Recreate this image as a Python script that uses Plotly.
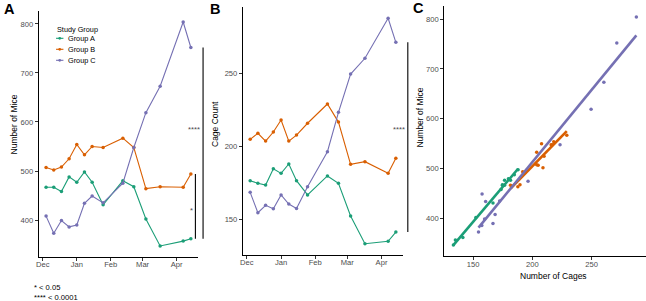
import numpy as np
import pandas as pd
import plotly.graph_objects as go

# ---------------- data ----------------
dates = ["2019-12-04", "2019-12-11", "2019-12-18", "2019-12-25", "2020-01-01",
         "2020-01-08", "2020-01-15", "2020-01-25", "2020-02-12", "2020-02-22",
         "2020-03-04", "2020-03-17", "2020-04-07", "2020-04-14"]

groups = ["Group A", "Group B", "Group C"]

mice_A = [467, 467, 458, 488, 477, 498, 477, 431, 480, 468, 402, 347, 357, 362]
mice_B = [507, 502, 508, 525, 554, 533, 550, 548, 567, 548, 464, 468, 467, 494]
mice_C = [408, 373, 399, 386, 390, 434, 449, 435, 475, 548, 619, 673, 804, 752]

cages_A = [176.5, 174.7, 173.5, 184.7, 181.5, 187.9, 176.5, 166.7, 179.7, 174.7, 152.3, 133.3, 135.0, 141.3]
cages_B = [204.8, 208.9, 203.6, 209.8, 218.0, 203.6, 207.7, 215.8, 229.0, 216.6, 187.7, 189.5, 181.5, 191.8]
cages_C = [168.5, 154.5, 159.6, 157.3, 166.7, 160.5, 157.5, 172.3, 196.3, 223.3, 249.5, 260.3, 287.7, 271.2]

month_ticks = ["2019-12-01", "2020-01-01", "2020-02-01", "2020-03-01", "2020-04-01"]
month_labels = ["Dec", "Jan", "Feb", "Mar", "Apr"]
mice_ticks = [400, 500, 600, 700, 800]
cage_ticks = [150, 200, 250]

colors = ["#1B9E77", "#D95F02", "#7570B3"]

# ---------------- helpers ----------------
W, H = 646, 301
FONT = "Liberation Sans, Arial, Helvetica, sans-serif"


def px(x):
    return x / W


def py(y):
    return 1 - y / H


def expand(vals, f=0.05):
    lo, hi = min(vals), max(vals)
    r = hi - lo
    return [lo - f * r, hi + f * r]


d = pd.to_datetime(dates)
dspan = d.max() - d.min()
date_range = [(d.min() - dspan * 0.05).strftime("%Y-%m-%d %H:%M"),
              (d.max() + dspan * 0.05).strftime("%Y-%m-%d %H:%M")]

mice_all = mice_A + mice_B + mice_C
cages_all = cages_A + cages_B + cages_C
mice_range = expand(mice_all)
cage_range = expand(cages_all)

fig = go.Figure()

mice = [mice_A, mice_B, mice_C]
cages = [cages_A, cages_B, cages_C]

# Panel A and B time series
for g, m, c, col in zip(groups, mice, cages, colors):
    fig.add_trace(go.Scatter(x=dates, y=m, mode="lines+markers", name=g,
                             line=dict(color=col, width=1.1),
                             marker=dict(color=col, size=3.5),
                             xaxis="x", yaxis="y", showlegend=False))
    fig.add_trace(go.Scatter(x=dates, y=c, mode="lines+markers", name=g,
                             line=dict(color=col, width=1.1),
                             marker=dict(color=col, size=3.5),
                             xaxis="x2", yaxis="y2", showlegend=False))

# Panel C scatter + linear fits
for g, m, c, col in zip(groups, mice, cages, colors):
    fig.add_trace(go.Scatter(x=c, y=m, mode="markers", name=g,
                             marker=dict(color=col, size=3.5),
                             xaxis="x3", yaxis="y3", showlegend=False))
    slope, icpt = np.polyfit(c, m, 1)
    xs = np.array([min(c), max(c)])
    fig.add_trace(go.Scatter(x=xs, y=slope * xs + icpt, mode="lines", name=g,
                             line=dict(color=col, width=2.6),
                             xaxis="x3", yaxis="y3", showlegend=False))

axis_common = dict(showline=True, linecolor="black", linewidth=1.1,
                   ticks="outside", ticklen=3, tickwidth=1, tickcolor="#333333",
                   showgrid=False, zeroline=False,
                   tickfont=dict(family=FONT, size=7.6, color="#4d4d4d"))
xaxis_extra = dict(ticklabelstandoff=-3)

fig.update_layout(
    width=W, height=H,
    margin=dict(l=0, r=0, t=0, b=0),
    paper_bgcolor="white", plot_bgcolor="white",
    font=dict(family=FONT),
    showlegend=False,
    xaxis=dict(domain=[px(36), px(196)], anchor="y", range=date_range,
               tickvals=month_ticks, ticktext=month_labels, **axis_common, **xaxis_extra),
    yaxis=dict(domain=[py(257.2), py(10.8)], anchor="x", range=mice_range,
               tickvals=mice_ticks, **axis_common),
    xaxis2=dict(domain=[px(241), px(402)], anchor="y2", range=date_range,
                tickvals=month_ticks, ticktext=month_labels, **axis_common, **xaxis_extra),
    yaxis2=dict(domain=[py(255), py(7)], anchor="x2", range=expand(cages_all),
                tickvals=cage_ticks, **axis_common),
    xaxis3=dict(domain=[px(443.3), px(645.5)], anchor="y3", range=cage_range,
                tickvals=cage_ticks, **axis_common, **xaxis_extra),
    yaxis3=dict(domain=[py(256.4), py(5.6)], anchor="x3", range=mice_range,
                tickvals=mice_ticks, **axis_common),
)

ann = []


def text(x, y, s, size=8.5, color="black", angle=0, xanchor="center", bold=False):
    ann.append(dict(x=px(x), y=py(y), xref="paper", yref="paper", text=s,
                    showarrow=False, textangle=angle, xanchor=xanchor,
                    yanchor="middle",
                    font=dict(family=FONT, size=size, color=color,
                              weight="bold" if bold else "normal")))


# Panel letters
text(7, 8.5, "A", size=14.5, bold=True)
text(213, 9, "B", size=14.5, bold=True)
text(417, 8, "C", size=14.5, bold=True)

# Axis titles
text(11.5, 124, "Number of Mice", size=8.5, angle=-90)
text(213, 124, "Cage Count", size=8.5, angle=-90)
text(418, 117.5, "Number of Mice", size=8.5, angle=-90)
text(552.7, 275.5, "Number of Cages", size=8.5)

# Legend (manual)
text(52.3, 30, "Study Group", size=7.3, xanchor="left")
shapes = []
for i, (g, col) in enumerate(zip(groups, colors)):
    yy = [38.3, 49.3, 60.3][i]
    shapes.append(dict(type="line", xref="paper", yref="paper",
                       x0=px(53.3), x1=px(60.7), y0=py(yy), y1=py(yy),
                       line=dict(color=col, width=1.1)))
    shapes.append(dict(type="circle", xref="paper", yref="paper",
                       x0=px(55.6), x1=px(58.4), y0=py(yy + 1.4), y1=py(yy - 1.4),
                       fillcolor=col, line=dict(width=0)))
    text(63.3, yy, g, size=7.3, xanchor="left")

# Significance brackets (span last values)
shapes.append(dict(type="line", xref="paper", yref="y",
                   x0=px(201), x1=px(201), y0=mice_A[-1], y1=mice_C[-1],
                   line=dict(color="black", width=1.1)))
shapes.append(dict(type="line", xref="paper", yref="y",
                   x0=px(193.3), x1=px(193.3), y0=mice_A[-1], y1=mice_B[-1],
                   line=dict(color="black", width=1.1)))
shapes.append(dict(type="line", xref="paper", yref="y2",
                   x0=px(406.7), x1=px(406.7), y0=cages_A[-1], y1=cages_C[-1],
                   line=dict(color="black", width=1.1)))
text(192, 130, "****", size=7.7, color="#4d4d4d")
text(189.3, 210.5, "*", size=7.7, color="#4d4d4d")
text(398, 130, "****", size=7.7, color="#4d4d4d")

# Footnote
text(29, 287, "* &lt; 0.05", size=7.6, xanchor="left")
text(29, 297, "**** &lt; 0.0001", size=7.6, xanchor="left")

fig.update_layout(annotations=ann, shapes=shapes)

fig.write_html("out.html",
               config={"displayModeBar": False},
               post_script="document.body.style.margin='0';"
                           "document.body.style.overflow='hidden';")
